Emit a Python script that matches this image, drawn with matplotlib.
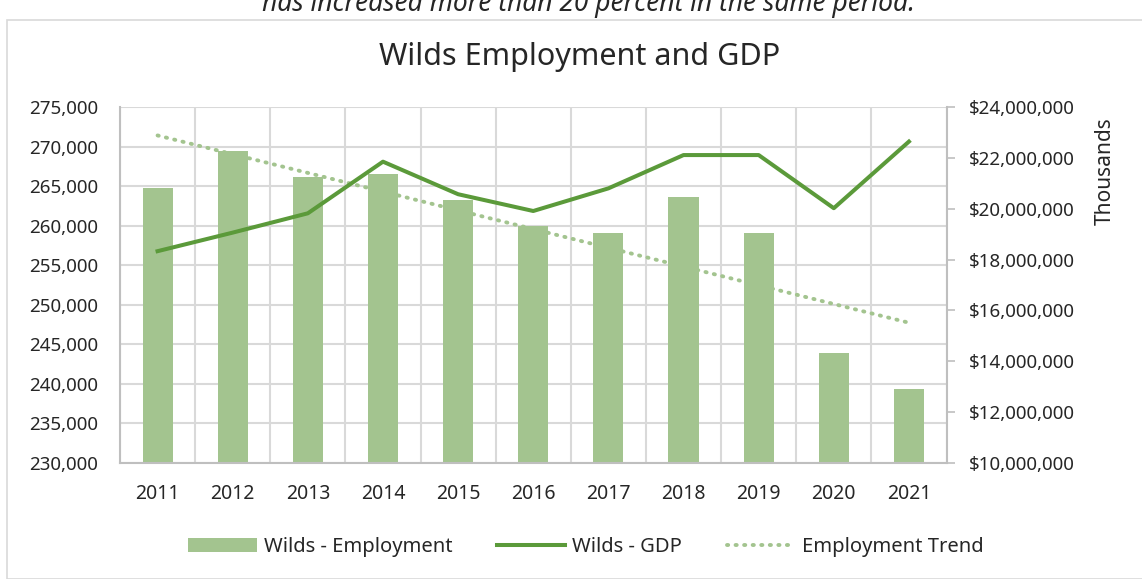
import numpy as np
import matplotlib.pyplot as plt
from matplotlib.patches import Rectangle
from matplotlib.ticker import FuncFormatter, MultipleLocator

plt.rcParams['font.family'] = ['Noto Sans', 'DejaVu Sans']

years = ['2011', '2012', '2013', '2014', '2015', '2016', '2017', '2018', '2019', '2020', '2021']
employment = [264800, 269400, 266200, 266500, 263300, 260000, 259050, 263650, 259050, 243900, 239400]
# GDP in thousands of dollars
gdp = [18330000, 19060000, 19820000, 21850000, 20570000, 19910000, 20800000,
       22110000, 22110000, 20020000, 22640000]

BAR_COLOR = '#A3C48F'
LINE_COLOR = '#5B9A3A'
GRID_COLOR = '#D9D9D9'
TEXT_COLOR = '#262626'

x = np.arange(len(years))
# linear trend of employment
coef = np.polyfit(x, employment, 1)
trend = np.polyval(coef, x)

fig = plt.figure(figsize=(11.42, 5.79), dpi=100)

# chart frame
fig.patches.append(Rectangle((7 / 1142, 0), 1.2, 1 - 20 / 579, transform=fig.transFigure,
                             fill=False, edgecolor='#D9D9D9', linewidth=1.2))
fig.text(0.515, 1 - 4 / 579, 'has increased more than 20 percent in the same period.',
         ha='center', va='center', fontsize=19, style='italic', color=TEXT_COLOR)

ax = fig.add_axes([120 / 1142, 1 - 463 / 579, (946.5 - 120) / 1142, (463 - 107) / 579])
ax2 = ax.twinx()

bars = ax.bar(x, employment, width=0.4, color=BAR_COLOR, zorder=2, label='Wilds - Employment')
ax.set_ylim(230000, 275000)
ax.set_xlim(-0.5, len(years) - 0.5)
ax.yaxis.set_major_locator(MultipleLocator(5000))
ax.yaxis.set_major_formatter(FuncFormatter(lambda v, p: f'{v:,.0f}'))
ax.set_xticks(x)
ax.set_xticklabels(years)
ax.set_xticks(np.arange(-0.5, len(years), 1), minor=True)
ax.grid(axis='y', which='major', color=GRID_COLOR, linewidth=1.5, zorder=0)
ax.grid(axis='x', which='minor', color=GRID_COLOR, linewidth=1.5, zorder=0)
ax.set_axisbelow(True)
ax.tick_params(axis='both', which='both', length=0, labelsize=13.5, colors=TEXT_COLOR)
ax.tick_params(axis='x', pad=15, labelsize=14)
ax.tick_params(axis='y', pad=16)
for side in ['top', 'right']:
    ax.spines[side].set_visible(False)
ax.spines['left'].set_color('#BFBFBF')
ax.spines['bottom'].set_color('#BFBFBF')
ax.spines['left'].set_linewidth(1.5)
ax.spines['bottom'].set_linewidth(1.5)

trend_line, = ax.plot(x, trend, linestyle=(0, (0.3, 1.9)), dash_capstyle='round',
                      color=BAR_COLOR, linewidth=2.8, zorder=3, label='Employment Trend')

gdp_line, = ax2.plot(x, gdp, color=LINE_COLOR, linewidth=2.9, zorder=4, label='Wilds - GDP')
ax2.set_ylim(10000000, 24000000)
ax2.yaxis.set_major_locator(MultipleLocator(2000000))
ax2.yaxis.set_major_formatter(FuncFormatter(lambda v, p: f'${v:,.0f}'))
ax2.tick_params(axis='y', length=6, width=1.2, color='#BFBFBF', labelsize=13.5,
                labelcolor=TEXT_COLOR, pad=10)
for side in ['top', 'left', 'bottom']:
    ax2.spines[side].set_visible(False)
ax2.spines['right'].set_color('#BFBFBF')
ax2.spines['right'].set_linewidth(1.5)
ax2.text(1.192, 0.82, 'Thousands', transform=ax2.transAxes, rotation=90,
         ha='center', va='center', fontsize=15, color=TEXT_COLOR)

fig.text(580 / 1142, 1 - 57 / 579, 'Wilds Employment and GDP', ha='center', va='center',
         fontsize=22, color=TEXT_COLOR)

fig.legend(handles=[bars, gdp_line, trend_line],
           labels=['Wilds - Employment', 'Wilds - GDP', 'Employment Trend'],
           loc='center', bbox_to_anchor=(586 / 1142, 1 - 547 / 579), ncol=3, frameon=False,
           fontsize=14.5, handlelength=3.4, columnspacing=2.2, handletextpad=0.35,
           labelcolor=TEXT_COLOR)

fig.savefig('out.png', dpi=100)
